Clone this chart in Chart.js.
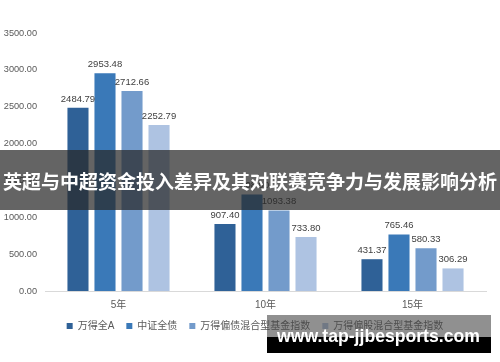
<!DOCTYPE html>
<html><head><meta charset="utf-8">
<script src="https://cdn.jsdelivr.net/npm/chart.js@4"></script>
<style>html,body{margin:0;padding:0;background:#fff}#wrap{width:500px;height:362px;position:relative}</style>
</head><body><div id="wrap"><canvas id="c" width="500" height="362"></canvas></div>
<script>
const categories = ['5年', '10年', '15年'];
const seriesNames = ['万得全A', '中证全债', '万得偏债混合型基金指数', '万得偏股混合型基金指数'];
const wandeQuanA = [2484.79, 907.40, 431.37];
const zhongzhengQuanZhai = [2953.48, 1308.00, 765.46];
const pianZhaiHunHe = [2712.66, 1093.38, 580.33];
const pianGuHunHe = [2252.79, 733.80, 306.29];
const yMin = 0, yMax = 3500, yStep = 500;
const seriesColors = ['#2f6197', '#3a79b8', '#739bcb', '#aec3e2'];
const titleText = '英超与中超资金投入差异及其对联赛竞争力与发展影响分析';
const watermarkText = 'www.tap-jjbesports.com';

const FONT = '"Liberation Sans", Arial, "Noto Sans CJK SC", sans-serif';

const dataLabelPlugin = {
  id: 'dataLabels',
  afterDatasetsDraw(chart) {
    const ctx = chart.ctx;
    ctx.save();
    ctx.font = '9.5px ' + FONT;
    ctx.fillStyle = '#404040';
    ctx.textAlign = 'center';
    ctx.textBaseline = 'bottom';
    chart.data.datasets.forEach((ds, i) => {
      const meta = chart.getDatasetMeta(i);
      meta.data.forEach((el, j) => {
        ctx.fillText(ds.data[j].toFixed(2), el.x, el.y - 4);
      });
    });
    ctx.restore();
  }
};

const legendShiftPlugin = {
  id: 'legendShift',
  afterLayout(chart) {
    if (chart.legend) { chart.legend.left += 12; chart.legend.right += 12; }
  }
};

const overlayPlugin = {
  id: 'overlay',
  afterDraw(chart) {
    const ctx = chart.ctx;
    ctx.save();
    ctx.fillStyle = 'rgba(40,40,40,0.72)';
    ctx.fillRect(0, 150, 500, 60);
    ctx.font = 'bold 18px "Noto Sans CJK SC", sans-serif';
    let w = ctx.measureText(titleText).width;
    let fs = 18 * 494 / w;
    ctx.font = 'bold ' + fs.toFixed(2) + 'px "Noto Sans CJK SC", sans-serif';
    ctx.fillStyle = '#ffffff';
    ctx.textAlign = 'center';
    ctx.textBaseline = 'middle';
    ctx.fillText(titleText, 250, 182);
    ctx.fillStyle = 'rgba(70,70,70,0.6)';
    ctx.fillRect(267, 315, 224, 22);
    ctx.fillStyle = '#000000';
    ctx.fillRect(267, 337, 224, 16);
    ctx.font = 'bold 18px "Liberation Sans", Arial, sans-serif';
    w = ctx.measureText(watermarkText).width;
    fs = 18 * 203 / w;
    ctx.font = 'bold ' + fs.toFixed(2) + 'px "Liberation Sans", Arial, sans-serif';
    ctx.fillStyle = '#ffffff';
    ctx.textAlign = 'left';
    ctx.textBaseline = 'alphabetic';
    ctx.fillText(watermarkText, 277, 342);
    ctx.restore();
  }
};

const seriesData = [wandeQuanA, zhongzhengQuanZhai, pianZhaiHunHe, pianGuHunHe];

new Chart(document.getElementById('c'), {
  type: 'bar',
  data: {
    labels: categories,
    datasets: seriesNames.map((name, i) => ({
      label: name,
      data: seriesData[i],
      backgroundColor: seriesColors[i],
      borderWidth: 0,
      categoryPercentage: 0.735,
      barPercentage: 0.78
    }))
  },
  options: {
    responsive: false,
    animation: false,
    devicePixelRatio: 1,
    layout: { padding: { top: 33, right: 14, bottom: 21, left: 0 } },
    font: { family: FONT },
    scales: {
      x: {
        grid: { display: false },
        border: { display: true, color: '#d9d9d9', width: 1 },
        ticks: { color: '#595959', font: { size: 10, family: FONT }, padding: 0 },
        afterFit: s => { s.height = 18; }
      },
      y: {
        min: yMin, max: yMax,
        grid: { display: false },
        border: { display: false },
        ticks: {
          stepSize: yStep,
          color: '#595959',
          font: { size: 9.2, family: FONT },
          padding: 0,
          callback: v => Number(v).toFixed(2)
        },
        afterFit: s => { s.width = 45; }
      }
    },
    plugins: {
      legend: {
        position: 'bottom',
        labels: { boxWidth: 6, boxHeight: 6, padding: 12, color: '#595959', font: { size: 10, family: FONT } }
      },
      tooltip: { enabled: false }
    }
  },
  plugins: [dataLabelPlugin, legendShiftPlugin, overlayPlugin]
});
</script></body></html>
